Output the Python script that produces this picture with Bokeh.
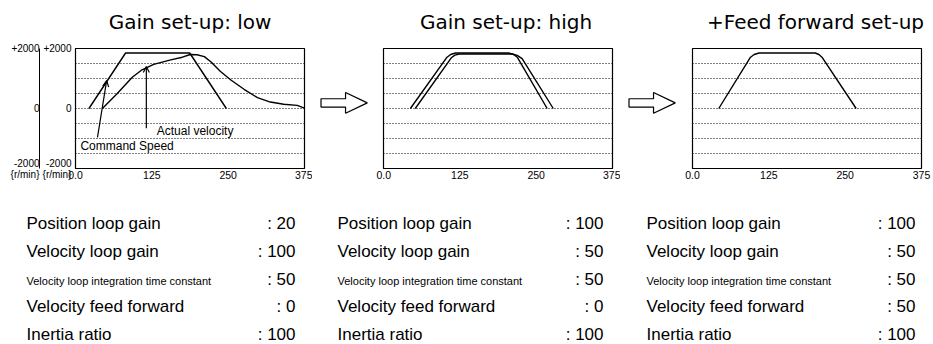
from bokeh.plotting import figure
from bokeh.models import (Range1d, LinearAxis, FixedTicker, ColumnDataSource,
                          Arrow, OpenHead, Grid)
from bokeh.layouts import column, row
from bokeh.core.properties import value
from bokeh.embed import file_html
from bokeh.resources import INLINE

# ---------------- data ----------------
TITLES = ["Gain set-up: low", "Gain set-up: high", "+Feed forward set-up"]
TIME_TICKS = [0, 125, 250, 375]
TIME_TICK_LABELS = ["0.0", "125", "250", "375"]
SPEED_TICKS = [-2000, 0, 2000]
SPEED_TICK_LABELS = ["-2000", "0", "+2000"]
GRID_LEVELS = [-1500, -1000, -500, 0, 500, 1000, 1500]
SPEED_UNIT = "{r/min}"

# Gain set-up: low
LOW_CMD_T = [22, 82, 187, 247]
LOW_CMD_V = [0, 1850, 1850, 0]
LOW_ACT_T = [44, 68, 93, 109, 128, 156, 175, 188, 199, 211, 222, 237, 255, 276, 298, 319, 341, 363, 375]
LOW_ACT_V = [0, 490, 1040, 1290, 1470, 1620, 1710, 1800, 1790, 1730, 1550, 1240, 940, 640, 360, 215, 140, 105, 15]

# Gain set-up: high
HIGH_CMD_T = [44, 104, 110, 118, 205, 213, 219, 268]
HIGH_CMD_V = [0, 1710, 1800, 1850, 1850, 1800, 1710, 0]
HIGH_ACT_T = [52, 111, 117, 124, 211, 219, 227, 278]
HIGH_ACT_V = [0, 1690, 1780, 1817, 1817, 1770, 1660, 0]

# + Feed forward set-up
FF_T = [43, 95, 101, 109, 201, 207, 212, 268]
FF_V = [0, 1710, 1800, 1850, 1850, 1800, 1710, 0]

# annotations in the first panel
CMD_NOTE = "Command Speed"
CMD_NOTE_T, CMD_NOTE_V = 8, -1400
CMD_ARROW_T = [36, 51]
CMD_ARROW_V = [-960, 930]
ACT_NOTE = "Actual velocity"
ACT_NOTE_T, ACT_NOTE_V = 133, -900
ACT_ARROW_T = [116, 116]
ACT_ARROW_V = [-660, 1400]

# parameter table
PARAM_NAMES = ["Position loop gain", "Velocity loop gain",
               "Velocity loop integration time constant",
               "Velocity feed forward", "Inertia ratio"]
LOW_VALUES = [20, 100, 50, 0, 100]
HIGH_VALUES = [100, 50, 50, 0, 100]
FF_VALUES = [100, 50, 50, 50, 100]

# ---------------- style / layout ----------------
FONT = "Liberation Sans"
TITLE_FONT = "DejaVu Sans"
STRIP_H = 40
PANEL_H = 150
FRAME_W = 229
T_MAX = 375
PAGE_W = 933
COMPACT_ROWS = {2}
BASE_SHIFT = 0.35   # em: moves text anchor up to the intended baseline

# panel geometry: (figure width, left border, right border)
PANEL_GEOM = [(312, 75, 8), (244, 7, 8), (249, 8, 12)]
FRAME_LEFT = [75, 383, 692]
TITLE_SHIFT = [0, 8, 8.5]


def panel(width, left, right, with_y=False):
    p = figure(width=width, height=PANEL_H, x_range=Range1d(0, T_MAX), y_range=Range1d(-2000, 2000),
               min_border_left=left, min_border_right=right, min_border_top=8, min_border_bottom=22,
               toolbar_location=None, output_backend="svg",
               y_axis_location="left" if with_y else None)
    p.outline_line_color = "black"
    p.outline_line_width = 1.2
    p.grid.visible = False
    p.add_layout(Grid(dimension=1, ticker=FixedTicker(ticks=GRID_LEVELS),
                      grid_line_color="black", grid_line_dash="1 2", grid_line_width=1.2))
    xa = p.xaxis[0]
    xa.ticker = FixedTicker(ticks=TIME_TICKS)
    xa.major_label_overrides = dict(zip(TIME_TICKS, TIME_TICK_LABELS))
    xa.major_tick_out = 0
    xa.major_tick_in = 0
    xa.minor_tick_out = 0
    xa.minor_tick_in = 0
    xa.major_label_standoff = 2
    xa.major_label_text_font = FONT
    xa.major_label_text_font_size = "10.5px"
    xa.major_label_text_color = "black"
    xa.axis_line_color = "black"
    return p


def style_speed_axis(ax, standoff, size):
    ax.ticker = FixedTicker(ticks=SPEED_TICKS)
    labels = [lab + ("\n" + SPEED_UNIT if t == min(SPEED_TICKS) else "")
              for t, lab in zip(SPEED_TICKS, SPEED_TICK_LABELS)]
    ax.major_label_overrides = dict(zip(SPEED_TICKS, labels))
    ax.major_tick_out = 0
    ax.major_tick_in = 0
    ax.minor_tick_out = 0
    ax.minor_tick_in = 0
    ax.major_label_standoff = standoff
    ax.major_label_text_font = FONT
    ax.major_label_text_font_size = size
    ax.major_label_text_line_height = 1.0
    ax.major_label_text_color = "black"
    ax.axis_line_color = "black"


# title strip across the top
strip = figure(width=PAGE_W, height=STRIP_H, x_range=Range1d(0, PAGE_W), y_range=Range1d(0, STRIP_H),
               min_border=0, toolbar_location=None, output_backend="svg",
               x_axis_location=None, y_axis_location=None)
strip.outline_line_color = None
strip.grid.visible = False
strip.text(x=[l + FRAME_W / 2 + s for l, s in zip(FRAME_LEFT, TITLE_SHIFT)],
           y=[STRIP_H - 28] * len(TITLES), text=TITLES, y_offset=-BASE_SHIFT * 20,
           text_font=value(TITLE_FONT), text_font_size="20px", text_align="center",
           text_baseline="alphabetic", text_color="black")

# panel 1
f1 = panel(*PANEL_GEOM[0], with_y=True)
inner = f1.yaxis[0]
style_speed_axis(inner, 4, "10px")
outer = LinearAxis()
style_speed_axis(outer, 0, "10px")
f1.add_layout(outer, "left")
f1.line(LOW_CMD_T, LOW_CMD_V, line_color="black", line_width=1.4)
f1.line(LOW_ACT_T, LOW_ACT_V, line_color="black", line_width=1.4)
f1.text(x=[CMD_NOTE_T, ACT_NOTE_T], y=[CMD_NOTE_V, ACT_NOTE_V], text=[CMD_NOTE, ACT_NOTE],
        y_offset=-BASE_SHIFT * 12,
        text_font=value(FONT), text_font_size="12px", text_baseline="alphabetic",
        text_align="left", text_color="black")
for ts, vs in ((CMD_ARROW_T, CMD_ARROW_V), (ACT_ARROW_T, ACT_ARROW_V)):
    f1.add_layout(Arrow(x_start=ts[0], y_start=vs[0], x_end=ts[1], y_end=vs[1],
                        line_width=1.2, line_color="black",
                        end=OpenHead(size=6, line_width=1.2, line_color="black")))

# panel 2
f2 = panel(*PANEL_GEOM[1])
f2.line(HIGH_CMD_T, HIGH_CMD_V, line_color="black", line_width=1.4)
f2.line(HIGH_ACT_T, HIGH_ACT_V, line_color="black", line_width=1.4)

# panel 3
f3 = panel(*PANEL_GEOM[2])
f3.line(FF_T, FF_V, line_color="black", line_width=1.4)

# block arrows between panels
ARROW_W = 46.3
ARROW_H = 26
ARROW_X = [0, 0.53, 0.53, 1, 0.53, 0.53, 0]
ARROW_Y = [0.2, 0.2, 0.5, 0, -0.5, -0.2, -0.2]
ARROW_CY = 108 - STRIP_H


def arrow_fig(width):
    a = figure(width=width, height=PANEL_H,
               x_range=Range1d(-8.5 / ARROW_W, (width - 8.5) / ARROW_W),
               y_range=Range1d(-(PANEL_H - ARROW_CY) / ARROW_H, ARROW_CY / ARROW_H),
               min_border=0, toolbar_location=None, output_backend="svg",
               x_axis_location=None, y_axis_location=None)
    a.outline_line_color = None
    a.grid.visible = False
    a.patch(ARROW_X, ARROW_Y, fill_color="white", line_color="black", line_width=1.2)
    return a


a1 = arrow_fig(64)
a2 = arrow_fig(64)

# parameter table
TOP_H = STRIP_H + PANEL_H
TXT_H = 344 - TOP_H
ROW_STEP = 27.7
FIRST_BASE = 229.3 - TOP_H
txt = figure(width=PAGE_W, height=TXT_H, x_range=Range1d(0, PAGE_W),
             y_range=Range1d(-(TXT_H - FIRST_BASE) / ROW_STEP, FIRST_BASE / ROW_STEP),
             min_border=0, toolbar_location=None,
             output_backend="svg", x_axis_location=None, y_axis_location=None)
txt.outline_line_color = None
txt.grid.visible = False
LABEL_X = [26, 337, 646]
VALUE_X = [295, 603, 915]
lab = dict(x=[], y=[], text=[], size=[], dy=[])
val = dict(x=[], y=[], text=[])
for c, vals in enumerate([LOW_VALUES, HIGH_VALUES, FF_VALUES]):
    for i, (name, v) in enumerate(zip(PARAM_NAMES, vals)):
        fs = 11 if i in COMPACT_ROWS else 17
        lab["x"].append(LABEL_X[c])
        lab["y"].append(-i)
        lab["text"].append(name)
        lab["size"].append(f"{fs}px")
        lab["dy"].append(-BASE_SHIFT * fs)
        val["x"].append(VALUE_X[c])
        val["y"].append(-i)
        val["text"].append(f": {v}")
txt.text(x="x", y="y", text="text", text_font=value(FONT), text_font_size="size",
         y_offset="dy", text_baseline="alphabetic", text_align="left", text_color="black",
         source=ColumnDataSource(lab))
txt.text(x="x", y="y", text="text", text_font=value(FONT), text_font_size="17px",
         y_offset=-BASE_SHIFT * 17, text_baseline="alphabetic", text_align="right",
         text_color="black", source=ColumnDataSource(val))

layout = column(strip, row(f1, a1, f2, a2, f3), txt)
open("out.html", "w").write(file_html(layout, INLINE))
